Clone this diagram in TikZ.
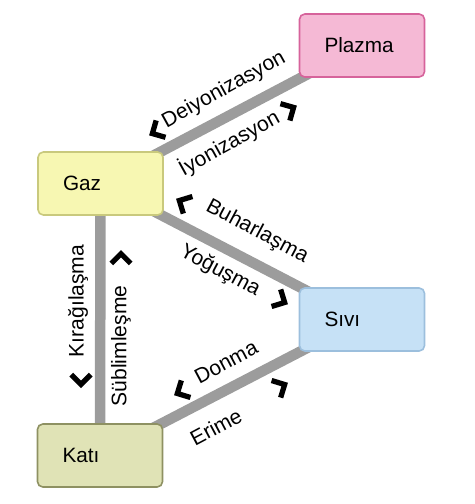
\documentclass[tikz,border=0pt]{standalone}
\usepackage{fontspec}
\setmainfont{Liberation Sans}
\usetikzlibrary{backgrounds}

\definecolor{plazmafill}{HTML}{F5B9D5}
\definecolor{plazmaline}{HTML}{D6639B}
\definecolor{gazfill}{HTML}{F7F7B2}
\definecolor{gazline}{HTML}{C9C97D}
\definecolor{sivifill}{HTML}{C6E1F6}
\definecolor{siviline}{HTML}{9CBFDD}
\definecolor{katifill}{HTML}{E0E3B6}
\definecolor{katiline}{HTML}{8E9162}
\definecolor{bargray}{HTML}{9C9C9C}

\tikzset{
  phase/.style={draw, line width=0.9pt, rounded corners=3pt, minimum height=1.26cm,
    text width=1.5cm, inner xsep=0.5cm, align=left, font=\fontsize{11.8}{14}\selectfont},
  bar/.style={draw=bargray, line width=0.21cm},
  lbl/.style={inner sep=0pt, font=\fontsize{12}{14}\selectfont},
  chev/.pic={\draw[line width=3pt, line join=miter] (-2.5pt,5.5pt) -- (3pt,0pt) -- (-2.5pt,-5.5pt);}
}

\begin{document}
\begin{tikzpicture}[x=0.02cm, y=-0.02cm]
  \useasboundingbox (0,0) rectangle (474,504);

  % states of matter
  \node[phase, fill=plazmafill, draw=plazmaline] (plazma) at (362,45.5) {Plazma};
  \node[phase, fill=gazfill, draw=gazline] (gaz) at (100.5,183.5) {Gaz};
  \node[phase, fill=sivifill, draw=siviline] (sivi) at (362,319.5) {Sıvı};
  \node[phase, fill=katifill, draw=katiline] (kati) at (100,455.5) {Katı};

  % connecting bars
  \begin{scope}[on background layer]
    \draw[bar] (gaz.center) -- (plazma.center);
    \draw[bar] (gaz.center) -- (sivi.center);
    \draw[bar] (kati.center) -- (sivi.center);
    \draw[bar] (gaz.center) -- (kati.center);
  \end{scope}

  % gaz - plazma
  \node[lbl, rotate=29] (deiyon) at (224,90) {Deiyonizasyon};
  \node[lbl, rotate=29] (iyon) at (229,143) {İyonizasyon};
  \pic[rotate=209] at (157,131) {chev};
  \pic[rotate=29] at (289,110) {chev};

  % gaz - sivi
  \node[lbl, rotate=-28] (buhar) at (257,232) {Buharlaşma};
  \node[lbl, rotate=-28] (yogus) at (220,271) {Yoğuşma};
  \pic[rotate=152] at (184,203) {chev};
  \pic[rotate=-28] at (280,300) {chev};

  % gaz - kati
  \node[lbl, rotate=90] (kirag) at (78,301) {Kırağılaşma};
  \node[lbl, rotate=90] (subl) at (121,346) {Süblimleşme};
  \pic[rotate=90] at (121,259) {chev};
  \pic[rotate=-90] at (81,379) {chev};

  % sivi - kati
  \node[lbl, rotate=28] (donma) at (226,362) {Donma};
  \node[lbl, rotate=28] (erime) at (216,427) {Erime};
  \pic[rotate=208] at (182,391) {chev};
  \pic[rotate=28] at (280,387) {chev};
\end{tikzpicture}
\end{document}
